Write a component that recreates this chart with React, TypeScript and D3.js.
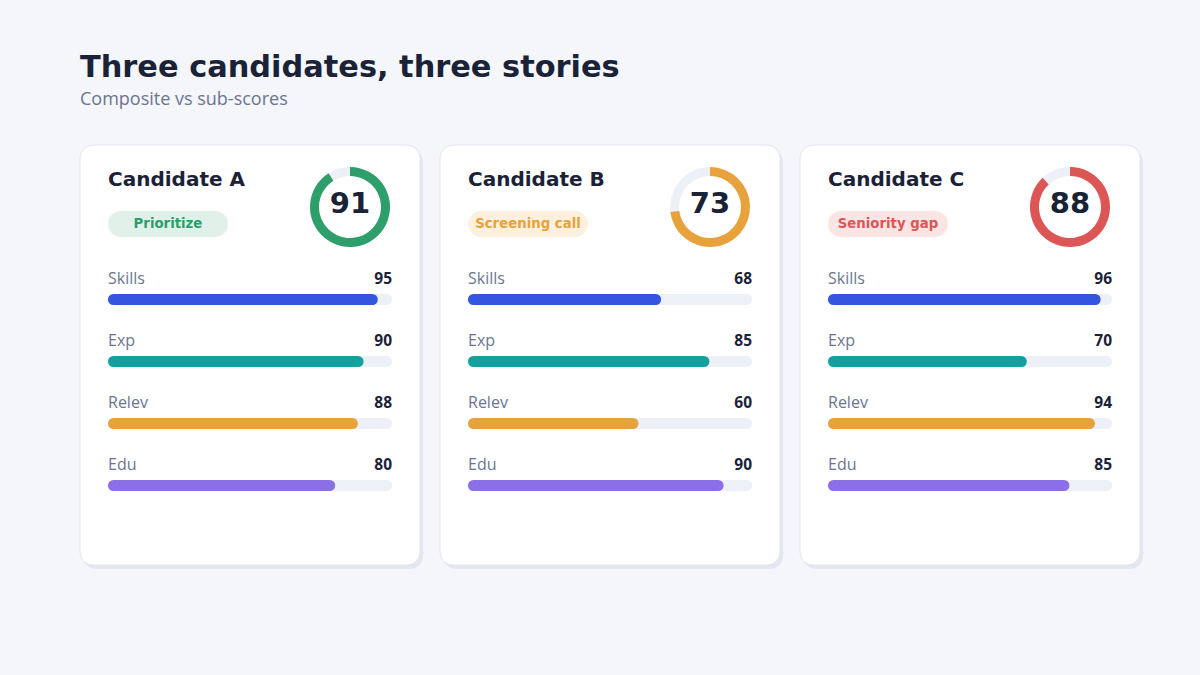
import * as d3 from 'd3'

const candidates = ['Candidate A', 'Candidate B', 'Candidate C']
const composite = [91, 73, 88]
const badges = ['Prioritize', 'Screening call', 'Seniority gap']
const subLabels = ['Skills', 'Exp', 'Relev', 'Edu']
const subScores = [
  [95, 90, 88, 80],
  [68, 85, 60, 90],
  [96, 70, 94, 85],
]

const toneColors = ['#2e9e6a', '#e8a23c', '#dc5656']
const badgeFills = ['#dff1e8', '#fdf0dd', '#fbe4e4']
const barColors = ['#3355e0', '#12a19e', '#e8a23c', '#8b6fe6']

const FONT = '"DejaVu Sans", sans-serif'
const ROW_FONT = '"Open Sans", "DejaVu Sans", sans-serif'
const INK = '#1a2238'
const MUTED = '#6b7591'
const TRACK = '#edf0f7'

const cardH = 420
const cardY = 145

// three 340px cards with 20px gutters
const cardX = d3
  .scaleBand<number>()
  .domain(d3.range(candidates.length))
  .range([80, 1140])
  .paddingInner(20 / 360)

const barW = d3.scaleLinear().domain([0, 100]).range([0, 284])
const rowY = d3.scaleLinear().domain([0, 1]).range([284, 346])

const arc = d3.arc<{ start: number; end: number }>()
  .innerRadius(31)
  .outerRadius(40)
  .startAngle(d => d.start)
  .endAngle(d => d.end)

const angle = d3.scaleLinear().domain([0, 100]).range([0, 2 * Math.PI])

function Card({ i }: { i: number }) {
  const x0 = cardX(i) || 0
  const w = cardX.bandwidth()
  const cx = x0 + 270
  const cy = 207
  return (
    <g>
      <rect x={x0 + 3} y={cardY + 4} width={w} height={cardH} rx={13} fill="#e4e7f0" />
      <rect x={x0} y={cardY} width={w} height={cardH} rx={13} fill="#ffffff" stroke="#e3e6f0" strokeWidth={1} />
      <text x={x0 + 28} y={186} fontFamily={FONT} fontWeight={700} fontSize={20} fill={INK}>
        {candidates[i]}
      </text>
      <rect x={x0 + 28} y={211} width={120} height={26} rx={13} fill={badgeFills[i]} />
      <text x={x0 + 88} y={228} textAnchor="middle" fontFamily={FONT} fontWeight={700} fontSize={13.3} fill={toneColors[i]}>
        {badges[i]}
      </text>
      <g transform={`translate(${cx},${cy})`}>
        <path d={arc({ start: 0, end: 2 * Math.PI }) || ''} fill={TRACK} />
        <path d={arc({ start: 0, end: angle(composite[i]) }) || ''} fill={toneColors[i]} />
        <text y={6} textAnchor="middle" fontFamily={FONT} fontWeight={700} fontSize={29} fill={INK}>
          {composite[i]}
        </text>
      </g>
      {subLabels.map((lab, j) => {
        const y = rowY(j)
        return (
          <g key={lab}>
            <text x={x0 + 28} y={y} fontFamily={ROW_FONT} fontSize={16} fill={MUTED}>
              {lab}
            </text>
            <text x={x0 + 312} y={y} textAnchor="end" fontFamily={ROW_FONT} fontWeight={700} fontSize={15.5} fill={INK}>
              {subScores[i][j]}
            </text>
            <rect x={x0 + 28} y={y + 10} width={barW(100)} height={11} rx={5.5} fill={TRACK} />
            <rect x={x0 + 28} y={y + 10} width={barW(subScores[i][j])} height={11} rx={5.5} fill={barColors[j]} />
          </g>
        )
      })}
    </g>
  )
}

export default function App() {
  return (
    <svg width={1200} height={675} style={{ position: 'absolute', left: 0, top: 0, display: 'block' }}>
      <rect width={1200} height={675} fill="#f4f6fa" />
      <text x={80} y={77} fontFamily={FONT} fontWeight={700} fontSize={30.4} fill={INK}>
        Three candidates, three stories
      </text>
      <text x={80} y={105} fontFamily={ROW_FONT} fontSize={18} fill={MUTED}>
        Composite vs sub-scores
      </text>
      {candidates.map((c, i) => (
        <Card key={c} i={i} />
      ))}
    </svg>
  )
}
